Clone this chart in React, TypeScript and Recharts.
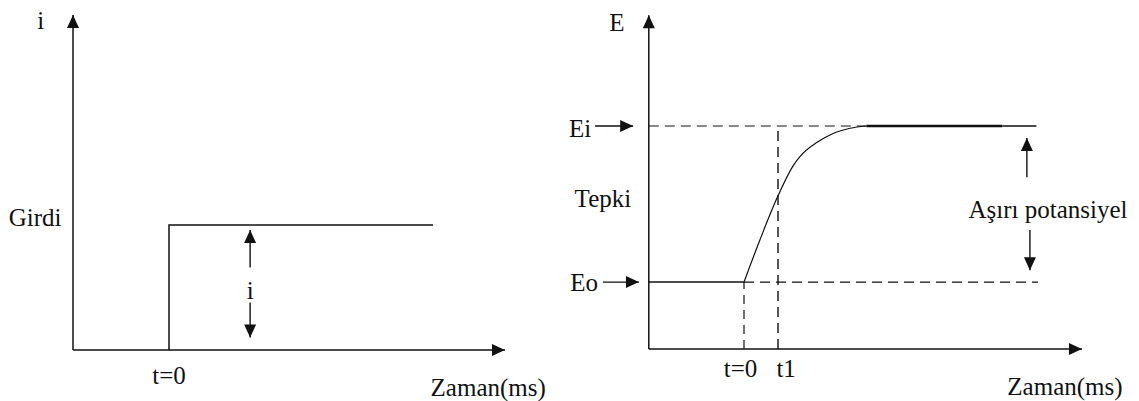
import { LineChart, Line, XAxis, YAxis, ReferenceLine, ReferenceDot } from "recharts";

// left panel: step input (t in ms, i in arbitrary units)
const inputAxisX = [{ x: -2, y: 0 }, { x: 7, y: 0, head: "right" }];
const inputAxisY = [{ x: -2, y: 0 }, { x: -2, y: 2.68, head: "up" }];
const inputStep = [{ x: 0, y: 0 }, { x: 0, y: 1 }, { x: 5.5, y: 1 }];
const inputArrowUp = [{ x: 1.69, y: 0.66 }, { x: 1.69, y: 0.96, head: "up" }];
const inputArrowDown = [{ x: 1.69, y: 0.38 }, { x: 1.69, y: 0.1, head: "down" }];
const inputLabels = [
  { x: -2.67, y: 2.64, text: "i" },
  { x: -2.79, y: 1.06, text: "Girdi" },
  { x: 1.69, y: 0.48, text: "i" },
  { x: 0, y: -0.2, text: "t=0" },
  { x: 6.65, y: -0.3, text: "Zaman(ms)" },
];

// right panel: potential response (t in ms, E in arbitrary units)
const E_O = 0.9;
const E_I = 3;
const T_1 = 1;
const responseAxisX = [{ x: -2.8, y: 0 }, { x: 9.94, y: 0, head: "right" }];
const responseAxisY = [{ x: -2.8, y: 0 }, { x: -2.8, y: 4.49, head: "up" }];
const responseBase = [{ x: -2.8, y: E_O }, { x: 0, y: E_O }];
const responseRise = [
  { x: 0, y: 0.9 },
  { x: 0.47, y: 1.47 },
  { x: 1, y: 2.06 },
  { x: 1.44, y: 2.46 },
  { x: 1.65, y: 2.59 },
  { x: 2.15, y: 2.78 },
  { x: 2.62, y: 2.9 },
  { x: 3.12, y: 2.97 },
  { x: 3.6, y: 3 },
];
const responsePlateau = [{ x: 3.6, y: E_I }, { x: 7.6, y: E_I }];
const eiPointer = [{ x: -4.38, y: E_I }, { x: -3.26, y: E_I, head: "right" }];
const eoPointer = [{ x: -4.15, y: E_O }, { x: -3.09, y: E_O, head: "right" }];
const overUp = [{ x: 8.32, y: 2.31 }, { x: 8.32, y: 2.84, head: "up" }];
const overDown = [{ x: 8.41, y: 1.6 }, { x: 8.41, y: 1.06, head: "down" }];
const responseLabels = [
  { x: -3.74, y: 4.39, text: "E" },
  { x: -4.82, y: 2.96, text: "Ei" },
  { x: -4.15, y: 2.03, text: "Tepki" },
  { x: -4.7, y: 0.89, text: "Eo" },
  { x: -0.1, y: -0.26, text: "t=0" },
  { x: 1.24, y: -0.26, text: "t1" },
  { x: 9.44, y: -0.51, text: "Zaman(ms)" },
  { x: 8.94, y: 1.88, text: "Aşırı potansiyel" },
];

const INK = "#111";
const FONT = '"Liberation Serif", "DejaVu Serif", "Times New Roman", serif';

function renderHead(props: any) {
  const { cx, cy, payload, index } = props;
  if (!payload || !payload.head || cx == null) return <g key={`n-${index}`} />;
  const L = 13;
  const W = 6;
  let pts = "";
  if (payload.head === "up") pts = `${cx},${cy} ${cx - W},${cy + L} ${cx + W},${cy + L}`;
  if (payload.head === "down") pts = `${cx},${cy} ${cx - W},${cy - L} ${cx + W},${cy - L}`;
  if (payload.head === "right") pts = `${cx},${cy} ${cx - L},${cy - W} ${cx - L},${cy + W}`;
  return <polygon key={`h-${index}`} points={pts} fill={INK} />;
}

function arrow(data: any[], key: string, width = 1.5) {
  return (
    <Line
      key={key}
      data={data}
      dataKey="y"
      type="linear"
      stroke={INK}
      strokeWidth={width}
      dot={renderHead}
      activeDot={false}
      isAnimationActive={false}
    />
  );
}

function labels(list: { x: number; y: number; text: string }[]) {
  return list.map((l) => (
    <ReferenceDot
      key={l.text + l.x}
      x={l.x}
      y={l.y}
      ifOverflow="visible"
      shape={(p: any) => (
        <text
          x={p.cx}
          y={p.cy}
          textAnchor="middle"
          dominantBaseline="central"
          style={{ fontFamily: FONT, fontSize: 25 }}
          fill={INK}
        >
          {l.text}
        </text>
      )}
    />
  ));
}

export default function App() {
  return (
    <div style={{ position: "absolute", left: 0, top: 0, width: 1139, height: 401, background: "#fff", fontFamily: FONT }}>
      <div style={{ position: "absolute", left: 0, top: 0 }}>
        <LineChart width={560} height={401} margin={{ top: 12.5, right: 55, bottom: 51, left: 73 }}>
          <XAxis type="number" dataKey="x" domain={[-2, 7]} hide />
          <YAxis type="number" dataKey="y" domain={[0, 2.7]} hide />
          {arrow(inputAxisX, "ax")}
          {arrow(inputAxisY, "ay")}
          {arrow(inputStep, "step")}
          {arrow(inputArrowUp, "up", 1.4)}
          {arrow(inputArrowDown, "down", 1.4)}
          {labels(inputLabels)}
        </LineChart>
      </div>
      <div style={{ position: "absolute", left: 560, top: 0 }}>
        <LineChart width={579} height={401} margin={{ top: 14.5, right: 55, bottom: 52, left: 14 }}>
          <XAxis type="number" dataKey="x" domain={[-5, 10]} hide />
          <YAxis type="number" dataKey="y" domain={[0, 4.5]} hide />
          <ReferenceLine segment={[{ x: -2.8, y: E_I }, { x: 3.6, y: E_I }]} stroke={INK} strokeWidth={1.2} strokeDasharray="10 6" />
          <ReferenceLine segment={[{ x: 7.6, y: E_I }, { x: 8.6, y: E_I }]} stroke={INK} strokeWidth={1.3} />
          <ReferenceLine segment={[{ x: 0, y: E_O }, { x: 8.65, y: E_O }]} stroke={INK} strokeWidth={1.2} strokeDasharray="10 6" />
          <ReferenceLine segment={[{ x: 0, y: 0 }, { x: 0, y: E_O }]} stroke={INK} strokeWidth={1.2} strokeDasharray="9 6" />
          <ReferenceLine segment={[{ x: T_1, y: 0 }, { x: T_1, y: E_I }]} stroke={INK} strokeWidth={1.4} strokeDasharray="10 6" />
          {arrow(responseAxisX, "rax")}
          {arrow(responseAxisY, "ray")}
          {arrow(responseBase, "base", 1.5)}
          <Line
            data={responseRise}
            dataKey="y"
            type="monotone"
            stroke={INK}
            strokeWidth={1.2}
            dot={false}
            activeDot={false}
            isAnimationActive={false}
          />
          <Line
            data={responsePlateau}
            dataKey="y"
            type="linear"
            stroke={INK}
            strokeWidth={2.6}
            dot={false}
            activeDot={false}
            isAnimationActive={false}
          />
          {arrow(eiPointer, "ei", 1.4)}
          {arrow(eoPointer, "eo", 1.4)}
          {arrow(overUp, "ou", 1.4)}
          {arrow(overDown, "od", 1.4)}
          {labels(responseLabels)}
        </LineChart>
      </div>
    </div>
  );
}
